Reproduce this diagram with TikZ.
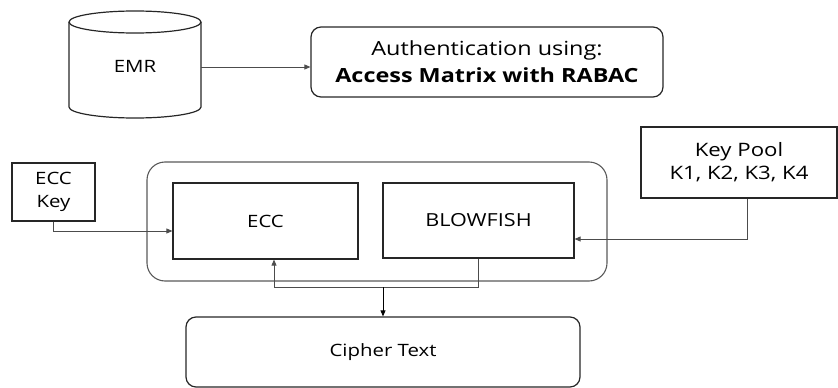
\documentclass[tikz,border=0pt]{standalone}
\usepackage{fontspec}
\setmainfont{Open Sans}[FakeStretch=1.2]
\usetikzlibrary{arrows.meta,calc}
\newcommand{\fsz}[2]{\fontsize{#1}{#2}\selectfont}
\begin{document}
\begin{tikzpicture}[x=1pt,y=-1pt,
  box/.style={draw=black!85,line width=1.2pt,minimum width=#1,inner sep=0pt,align=center,font=\fsz{18}{23}},
  conn/.style={draw=black!70,line width=0.8pt},
  arr/.style={conn,-{Triangle[length=6pt,width=5pt]}}]
\useasboundingbox (0,0) rectangle (838,388);
% EMR cylinder
\node[inner sep=0pt,minimum width=132,minimum height=108,align=center,font=\fsz{17}{22}] (emr) at (135,66) {EMR};
\draw[line width=1.2pt,draw=black!85] (69,22) -- (69,107) arc[start angle=180,end angle=360,x radius=66,y radius=-11] -- (201,22);
\draw[line width=1.2pt,draw=black!85] (135,22) ellipse[x radius=66,y radius=11];
% boxes
\node[box=352,minimum height=70,rounded corners=10,font=\fsz{19.5}{27}] (auth) at (487,62) {Authentication using:\\\textbf{Access Matrix with RABAC}};
\node[draw=black!65,line width=1.1pt,rounded corners=18,minimum width=460,minimum height=119] (outer) at (377,221.5) {};
\node[box=83,minimum height=58,font=\fsz{17}{23}] (ecckey) at (53.5,192) {ECC\\Key};
\node[box=185,minimum height=76,font=\fsz{17}{23}] (ecc) at (265.5,221) {ECC};
\node[box=191,minimum height=75] (blow) at (478.5,220.5) {BLOWFISH};
\node[box=196,minimum height=71,font=\fsz{18.5}{23}] (keypool) at (739,162.5) {Key Pool\\K1, K2, K3, K4};
\node[box=394,minimum height=70,rounded corners=10,font=\fsz{17}{23}] (cipher) at (383,352) {Cipher Text};
% connectors
\draw[arr] ([yshift=-1]emr.east) -- ([yshift=-1]emr.east -| auth.west);
\draw[arr] (ecckey.south) |- (ecc.west |- 0,231);
\draw[arr] ([xshift=8]keypool.south) |- (blow.east |- 0,239);
\coordinate (j) at (274,287);
\draw[arr] (blow.south) |- (j) -- (j |- ecc.south);
\draw[arr,draw=black] (cipher.north |- j) -- (cipher.north);
\end{tikzpicture}
\end{document}
